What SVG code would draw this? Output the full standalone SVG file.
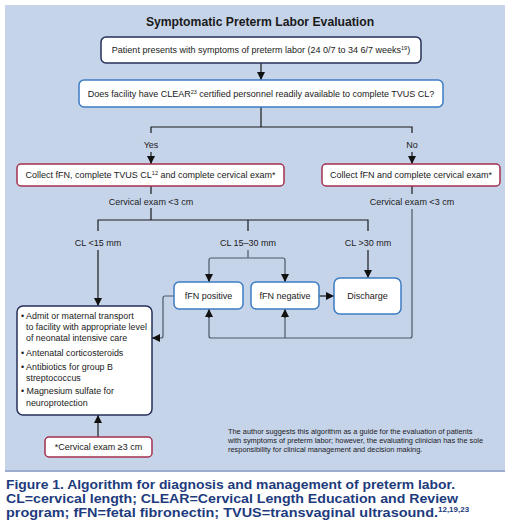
<svg xmlns="http://www.w3.org/2000/svg" width="517" height="528" viewBox="0 0 517 528">
<defs>
<marker id="ah" viewBox="0 0 10 10" refX="10" refY="5" markerWidth="8" markerHeight="8" markerUnits="userSpaceOnUse" orient="auto">
<path d="M0,0 L10,5 L0,10 z" fill="#111"/>
</marker>
</defs>
<style>
text{font-family:"Liberation Sans",Arial,sans-serif;fill:#1a1a1a}
.t{font-size:9px;text-anchor:middle}
.l{font-size:8.9px}
.box{fill:#fff;stroke-width:1.5}
.navy{stroke:#262f5a}
.blue{stroke:#3d7cc2}
.red{stroke:#a3304f}
.c{fill:none;stroke:#1a1a1a;stroke-width:1.2}
.g{fill:none;stroke:#4d5668;stroke-width:1.2}
.cap{font-size:13px;font-weight:bold;fill:#1d3b7d}
</style>
<rect x="5" y="5" width="500" height="465" fill="#c6d4ea"/>
<line x1="5" y1="471" x2="505" y2="471" stroke="#3a5aa0" stroke-width="1"/>
<text x="260" y="26" text-anchor="middle" font-size="12.2" font-weight="bold">Symptomatic Preterm Labor Evaluation</text>

<g id="connectors">
<line class="c" x1="261" y1="63" x2="261" y2="80" marker-end="url(#ah)"/>
<path class="c" d="M261,107 V127 M151,133 V127 H412 V133"/>
<line class="c" x1="151" y1="152" x2="151" y2="164" marker-end="url(#ah)"/>
<line class="c" x1="412" y1="152" x2="412" y2="164" marker-end="url(#ah)"/>
<path class="c" d="M151,186 V194 M151,208 V220 M98,231 V220 H368 V231 M248,220 V231"/>
<path class="c" d="M412,186 V194"/>
<line class="c" x1="98" y1="250" x2="98" y2="306" marker-end="url(#ah)"/>
<path class="g" d="M248,250 V258 M209,282 V260 Q209,258 211,258 H283 Q285,258 285,260 V282"/>
<line class="c" x1="209" y1="274" x2="209" y2="282" marker-end="url(#ah)"/>
<line class="c" x1="285" y1="274" x2="285" y2="282" marker-end="url(#ah)"/>
<line class="c" x1="368" y1="250" x2="368" y2="278" marker-end="url(#ah)"/>
<line class="c" x1="319" y1="296" x2="334" y2="296" marker-end="url(#ah)"/>
<path class="g" d="M412,209 V336 Q412,338 410,338 H211 Q209,338 209,336 V316 M285,338 V316"/>
<line class="c" x1="209" y1="318" x2="209" y2="309" marker-end="url(#ah)"/>
<line class="c" x1="285" y1="318" x2="285" y2="309" marker-end="url(#ah)"/>
<path class="g" d="M174,296 H165 Q163,296 163,298 V336 Q163,338 161,338 H159"/>
<line class="c" x1="160" y1="338" x2="152" y2="338" marker-end="url(#ah)"/>
<line class="c" x1="98" y1="437" x2="98" y2="415" marker-end="url(#ah)"/>
</g>

<g id="n-patient">
<rect class="box navy" x="101" y="37" width="320" height="26" rx="5"/>
<text class="t" x="261" y="53">Patient presents with symptoms of preterm labor (24 0/7 to 34 6/7 weeks<tspan font-size="5.5" dy="-3">19</tspan><tspan dy="3">)</tspan></text>
</g>
<g id="n-facility">
<rect class="box blue" x="79" y="80" width="364" height="27" rx="5"/>
<text class="t" x="261" y="97">Does facility have CLEAR<tspan font-size="5.5" dy="-3">23</tspan><tspan dy="3"> certified personnel readily available to complete TVUS CL?</tspan></text>
</g>
<g id="e-yes"><text class="t" x="151" y="148">Yes</text></g>
<g id="e-no"><text class="t" x="412" y="148">No</text></g>
<g id="n-collect-yes">
<rect class="box red" x="17" y="164" width="267" height="22" rx="4"/>
<text class="t" x="150.5" y="178">Collect fFN, complete TVUS CL<tspan font-size="5.5" dy="-3">12</tspan><tspan dy="3"> and complete cervical exam*</tspan></text>
</g>
<g id="n-collect-no">
<rect class="box red" x="322" y="164" width="178" height="22" rx="4"/>
<text class="t" x="411" y="178">Collect fFN and complete cervical exam*</text>
</g>
<text class="t" x="151" y="205">Cervical exam &lt;3 cm</text>
<text class="t" x="412" y="205">Cervical exam &lt;3 cm</text>
<text class="t" x="98" y="246">CL &lt;15 mm</text>
<text class="t" x="248" y="246">CL 15–30 mm</text>
<text class="t" x="368" y="246">CL &gt;30 mm</text>

<g id="n-fFN-pos">
<rect class="box blue" x="174" y="282" width="69" height="27" rx="5"/>
<text class="t" x="208.5" y="299">fFN positive</text>
</g>
<g id="n-fFN-neg">
<rect class="box blue" x="251" y="282" width="68" height="27" rx="5"/>
<text class="t" x="285" y="299">fFN negative</text>
</g>
<g id="n-discharge">
<rect class="box blue" x="334" y="278" width="67" height="36" rx="6"/>
<text class="t" x="367.5" y="299">Discharge</text>
</g>
<g id="n-manage">
<rect class="box navy" x="17" y="306" width="135" height="109" rx="6"/>
<text class="l" x="21" y="319">• Admit or maternal transport</text>
<text class="l" x="26" y="330">to facility with appropriate level</text>
<text class="l" x="26" y="341">of neonatal intensive care</text>
<text class="l" x="21" y="356">• Antenatal corticosteroids</text>
<text class="l" x="21" y="370">• Antibiotics for group B</text>
<text class="l" x="26" y="381">streptococcus</text>
<text class="l" x="21" y="394">• Magnesium sulfate for</text>
<text class="l" x="26" y="406">neuroprotection</text>
</g>
<g id="n-cervical3">
<rect class="box red" x="45" y="437" width="107" height="20" rx="4"/>
<text class="t" x="98.5" y="450">*Cervical exam ≥3 cm</text>
</g>
<g id="note" font-size="7.4">
<text x="228" y="434">The author suggests this algorithm as a guide for the evaluation of patients</text>
<text x="228" y="443">with symptoms of preterm labor; however, the evaluating clinician has the sole</text>
<text x="228" y="452">responsibility for clinical management and decision making.</text>
</g>
<g id="caption">
<text class="cap" x="6" y="489" textLength="449" lengthAdjust="spacingAndGlyphs">Figure 1. Algorithm for diagnosis and management of preterm labor.</text>
<text class="cap" x="6" y="503" textLength="452" lengthAdjust="spacingAndGlyphs">CL=cervical length; CLEAR=Cervical Length Education and Review</text>
<text class="cap" x="6" y="517"><tspan textLength="432" lengthAdjust="spacingAndGlyphs">program; fFN=fetal fibronectin; TVUS=transvaginal ultrasound.</tspan><tspan font-size="8" dy="-5">12,19,23</tspan></text>
</g>
</svg>
